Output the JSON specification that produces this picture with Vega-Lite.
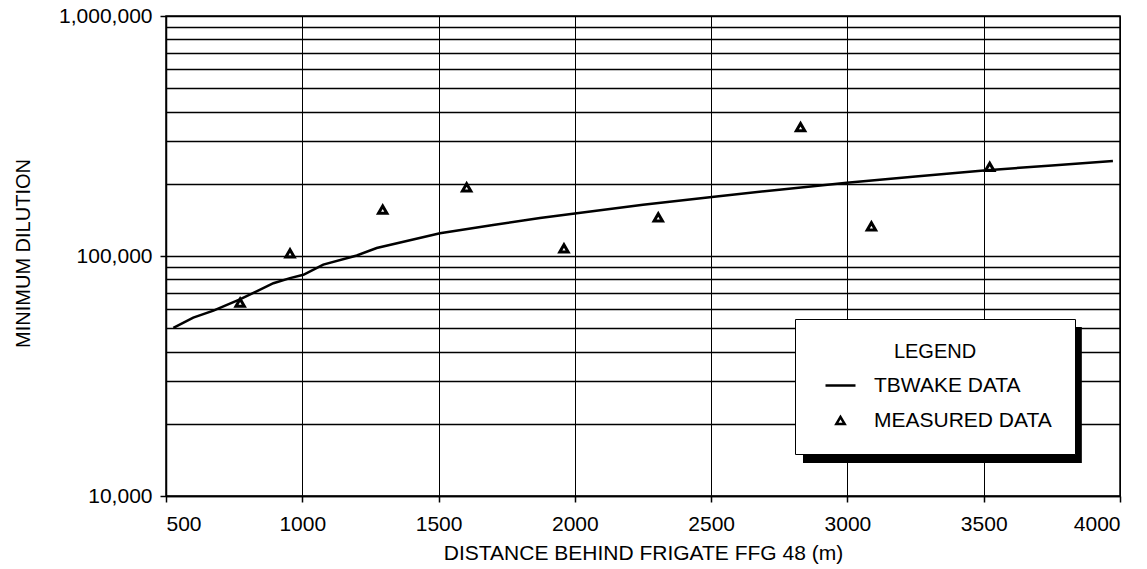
{
  "$schema": "https://vega.github.io/schema/vega-lite/v6.json",
  "width": 954,
  "height": 480,
  "autosize": {"type": "none"},
  "padding": {"left": 166, "top": 16, "right": 27, "bottom": 73},
  "background": "white",
  "config": {
    "font": "Liberation Sans",
    "view": {"stroke": "black", "strokeWidth": 1.5},
    "axis": {
      "domainColor": "black",
      "domainWidth": 1.5,
      "gridColor": "black",
      "gridOpacity": 1,
      "tickColor": "black",
      "tickWidth": 1.5,
      "labelColor": "black",
      "titleColor": "black",
      "labelFont": "Liberation Sans",
      "titleFont": "Liberation Sans",
      "titleFontWeight": "normal"
    }
  },
  "datasets": {
    "tbwake": [
      {"distance": 527, "dilution": 50200, "series": "TBWAKE DATA"},
      {"distance": 600, "dilution": 55400, "series": "TBWAKE DATA"},
      {"distance": 674, "dilution": 59200, "series": "TBWAKE DATA"},
      {"distance": 771, "dilution": 65900, "series": "TBWAKE DATA"},
      {"distance": 894, "dilution": 77000, "series": "TBWAKE DATA"},
      {"distance": 955, "dilution": 80900, "series": "TBWAKE DATA"},
      {"distance": 1004, "dilution": 83500, "series": "TBWAKE DATA"},
      {"distance": 1077, "dilution": 92100, "series": "TBWAKE DATA"},
      {"distance": 1200, "dilution": 100500, "series": "TBWAKE DATA"},
      {"distance": 1273, "dilution": 108000, "series": "TBWAKE DATA"},
      {"distance": 1505, "dilution": 124500, "series": "TBWAKE DATA"},
      {"distance": 1700, "dilution": 134500, "series": "TBWAKE DATA"},
      {"distance": 1872, "dilution": 144000, "series": "TBWAKE DATA"},
      {"distance": 2000, "dilution": 150500, "series": "TBWAKE DATA"},
      {"distance": 2250, "dilution": 163500, "series": "TBWAKE DATA"},
      {"distance": 2503, "dilution": 176000, "series": "TBWAKE DATA"},
      {"distance": 2750, "dilution": 189000, "series": "TBWAKE DATA"},
      {"distance": 2998, "dilution": 202000, "series": "TBWAKE DATA"},
      {"distance": 3250, "dilution": 214500, "series": "TBWAKE DATA"},
      {"distance": 3500, "dilution": 227000, "series": "TBWAKE DATA"},
      {"distance": 3750, "dilution": 238500, "series": "TBWAKE DATA"},
      {"distance": 3974, "dilution": 249000, "series": "TBWAKE DATA"}
    ],
    "measured": [
      {"distance": 772, "dilution": 64000, "series": "MEASURED DATA"},
      {"distance": 955, "dilution": 102500, "series": "MEASURED DATA"},
      {"distance": 1295, "dilution": 156000, "series": "MEASURED DATA"},
      {"distance": 1603, "dilution": 193000, "series": "MEASURED DATA"},
      {"distance": 1960, "dilution": 107500, "series": "MEASURED DATA"},
      {"distance": 2306, "dilution": 145000, "series": "MEASURED DATA"},
      {"distance": 2828, "dilution": 344000, "series": "MEASURED DATA"},
      {"distance": 3088, "dilution": 133000, "series": "MEASURED DATA"},
      {"distance": 3522, "dilution": 235000, "series": "MEASURED DATA"}
    ]
  },
  "layer": [
    {
      "data": {"name": "tbwake"},
      "mark": {"type": "line", "color": "black", "strokeWidth": 2.5},
      "encoding": {
        "x": {
          "field": "distance",
          "type": "quantitative",
          "scale": {"domain": [500, 4000], "nice": false, "zero": false},
          "axis": {
            "values": [500, 1000, 1500, 2000, 2500, 3000, 3500, 4000],
            "format": "d",
            "grid": true,
            "gridWidth": 1,
            "tickSize": 6,
            "labelPadding": 11,
            "labelFontSize": 21,
            "title": "DISTANCE BEHIND FRIGATE FFG 48 (m)",
            "titleFontSize": 21,
            "titleBaseline": "alphabetic",
            "titleY": 63
          }
        },
        "y": {
          "field": "dilution",
          "type": "quantitative",
          "scale": {"type": "log", "domain": [10000, 1000000], "nice": false},
          "axis": {
            "values": [10000, 20000, 30000, 40000, 50000, 60000, 70000, 80000, 90000, 100000, 200000, 300000, 400000, 500000, 600000, 700000, 800000, 900000, 1000000],
            "labelExpr": "datum.value == 10000 || datum.value == 100000 || datum.value == 1000000 ? format(datum.value, ',') : ''",
            "tickColor": {"condition": {"test": "datum.value == 10000 || datum.value == 100000 || datum.value == 1000000", "value": "black"}, "value": "transparent"},
            "grid": true,
            "gridWidth": 1.5,
            "tickSize": 6,
            "labelPadding": 8,
            "labelFontSize": 21,
            "labelBaseline": "middle",
            "title": "MINIMUM DILUTION",
            "titleFontSize": 20,
            "titleAngle": -90,
            "titleBaseline": "alphabetic",
            "titleX": -137,
            "titleY": 237,
            "titleAlign": "center"
          }
        }
      }
    },
    {
      "data": {"values": [{}]},
      "mark": {"type": "rect", "color": "black"},
      "encoding": {
        "x": {"datum": 2837},
        "x2": {"datum": 3860},
        "y": {"datum": 50600},
        "y2": {"datum": 13730}
      }
    },
    {
      "data": {"name": "measured"},
      "mark": {"type": "point", "filled": false, "color": "black", "strokeWidth": 3, "opacity": 1},
      "encoding": {
        "x": {"field": "distance", "type": "quantitative"},
        "y": {"field": "dilution", "type": "quantitative"},
        "size": {
          "field": "series",
          "type": "nominal",
          "scale": {"domain": ["TBWAKE DATA", "MEASURED DATA"], "range": [900, 70]},
          "legend": {"title": "LEGEND"}
        },
        "shape": {
          "field": "series",
          "type": "nominal",
          "scale": {"domain": ["TBWAKE DATA", "MEASURED DATA"], "range": ["stroke", "triangle-up"]},
          "legend": {
            "orient": "none",
            "legendX": 629,
            "legendY": 303,
            "title": "LEGEND",
            "titleFontSize": 20,
            "titleFontWeight": "normal",
            "titleColor": "black",
            "titleAnchor": "middle",
            "titleAlign": "center",
            "titlePadding": 7,
            "labelFontSize": 21,
            "labelLimit": 400,
            "labelColor": "black",
            "labelOffset": 17,
            "symbolOffset": 6,
            "symbolStrokeWidth": 2.5,
            "symbolStrokeColor": "black",
            "padding": 23,
            "rowPadding": 13,
            "fillColor": "white",
            "strokeColor": "black",
            "cornerRadius": 0
          }
        }
      }
    }
  ]
}
